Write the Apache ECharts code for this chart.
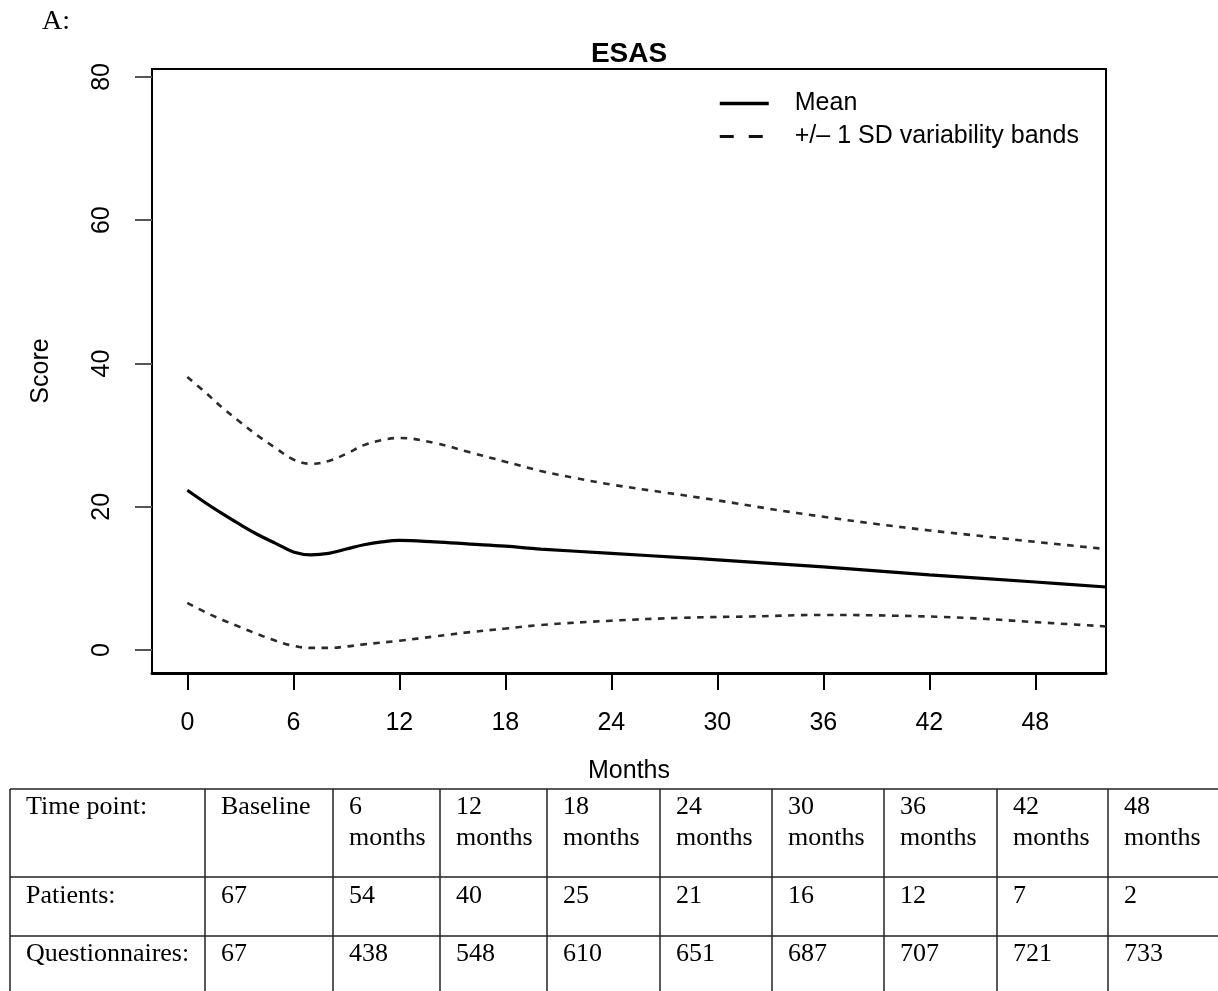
<!DOCTYPE html>
<html><head><meta charset="utf-8">
<script src="https://cdn.jsdelivr.net/npm/echarts@6/dist/echarts.min.js"></script>
<style>html,body{margin:0;padding:0;background:#fff}#c{width:1218px;height:991px}</style>
</head><body><div id="c"></div>
<script>
// ---- data ----
const meanMonths  = [0,1,2,3,4,5,6,7,8,9,10,11,12,14,16,18,20,24,28,30,36,42,48,52];
const meanScore   = [22.3,20.6,19.0,17.5,16.1,14.9,13.7,13.3,13.5,14.1,14.7,15.1,15.3,15.1,14.8,14.5,14.1,13.5,12.9,12.6,11.6,10.5,9.5,8.8];
const upperMonths = [0,1,2,3,4,5,6,7,8,9,10,11,12,14,16,18,20,22,24,27,30,33,36,39,42,45,48,52];
const upperScore  = [38.1,36.0,33.8,31.8,29.9,28.2,26.6,26.0,26.4,27.4,28.6,29.3,29.6,28.9,27.6,26.3,25.0,24.0,23.1,22.0,20.9,19.7,18.6,17.6,16.7,15.9,15.1,14.1];
const lowerMonths = [0,1,2,3,4,5,6,7,8,9,10,12,14,16,18,20,24,28,32,36,40,44,48,52];
const lowerScore  = [6.6,5.3,4.2,3.2,2.2,1.3,0.6,0.3,0.3,0.5,0.8,1.3,1.9,2.5,3.0,3.5,4.1,4.5,4.7,4.9,4.8,4.5,3.9,3.3];
const xTicks = [0,6,12,18,24,30,36,42,48];
const yTicks = [0,20,40,60,80];
const bandName = '+/\u2013 1 SD variability bands';
const tableHeader = ['Time point:','Baseline','6\nmonths','12\nmonths','18\nmonths','24\nmonths','30\nmonths','36\nmonths','42\nmonths','48\nmonths'];
const tablePatients = ['Patients:','67','54','40','25','21','16','12','7','2'];
const tableQuest = ['Questionnaires:','67','438','548','610','651','687','707','721','733'];

const zip = (xs, ys) => xs.map((x, i) => [x, ys[i]]);

// ---- table layout ----
const colX = [10,205,333,440,547,660,772,884,997,1108,1220];
const rowY = [789,877,936,995];
const rowTextTop = [791.5,880.5,938.5];
const g = [];
g.push({type:'text', left:42, top:8, style:{text:'A:', font:'28px "Liberation Serif"', fill:'#000'}});
rowY.forEach(y => g.push({type:'line', shape:{x1:colX[0], y1:y, x2:colX[colX.length-1], y2:y}, style:{stroke:'#222', lineWidth:1.5}}));
colX.forEach(x => g.push({type:'line', shape:{x1:x, y1:rowY[0], x2:x, y2:rowY[rowY.length-1]}, style:{stroke:'#222', lineWidth:1.5}}));
[tableHeader, tablePatients, tableQuest].forEach((row, r) => {
  row.forEach((t, c) => {
    g.push({type:'text', x:colX[c]+16, y:rowTextTop[r], style:{text:t, font:'26px "Liberation Serif"', lineHeight:31, fill:'#000', textVerticalAlign:'top', verticalAlign:'top'}});
  });
});

const chart = echarts.init(document.getElementById('c'), null, {renderer:'canvas'});
chart.setOption({
  animation:false,
  backgroundColor:'#fff',
  title:{text:'ESAS', left:629, top:40, padding:0, textAlign:'center',
    textStyle:{fontFamily:'Liberation Sans', fontWeight:'bold', fontSize:28, color:'#000'}},
  legend:{
    orient:'vertical', left:718, top:91, padding:0, itemWidth:49, itemHeight:14, itemGap:8,
    itemStyle:{opacity:0, borderWidth:0},
    textStyle:{fontFamily:'Liberation Sans', fontSize:25, color:'#000', padding:[0,0,0,21]},
    data:[{name:'Mean', lineStyle:{width:3.5, color:'#000'}}, {name:bandName, lineStyle:{type:[14,15], width:3, color:'#111'}}]
  },
  grid:{left:152, top:69, right:112, bottom:318, show:true, borderColor:'#000', borderWidth:2, containLabel:false},
  xAxis:{
    type:'value', min:-2, max:52,
    name:'Months', nameLocation:'middle', nameGap:86,
    nameTextStyle:{fontFamily:'Liberation Sans', fontSize:25, color:'#000'},
    axisLine:{show:true, onZero:false, lineStyle:{color:'#000', width:3}},
    axisTick:{show:true, length:17, customValues:xTicks, lineStyle:{color:'#000', width:2}},
    axisLabel:{customValues:xTicks, margin:38, fontFamily:'Liberation Sans', fontSize:25, color:'#000'},
    splitLine:{show:false}
  },
  yAxis:{
    type:'value', min:-3.2, max:81.1,
    name:'Score', nameLocation:'middle', nameGap:98, nameRotate:90,
    nameTextStyle:{fontFamily:'Liberation Sans', fontSize:25, color:'#000'},
    axisLine:{show:true, onZero:false, lineStyle:{color:'#000', width:2}},
    axisTick:{show:true, length:17, customValues:yTicks, lineStyle:{color:'#555', width:2}},
    axisLabel:{customValues:yTicks, rotate:90, margin:37, fontFamily:'Liberation Sans', fontSize:25, color:'#000'},
    splitLine:{show:false}
  },
  series:[
    {type:'line', name:'Mean', data:zip(meanMonths, meanScore), smooth:0.4, symbol:'none',
     lineStyle:{color:'#000', width:3.2}, itemStyle:{color:'#000'}, z:3},
    {type:'line', name:bandName, data:zip(upperMonths, upperScore), smooth:0.4, symbol:'none',
     lineStyle:{color:'#2a2a2a', width:2.6, type:[6.5,6.5]}, itemStyle:{color:'#2a2a2a'}},
    {type:'line', name:bandName, data:zip(lowerMonths, lowerScore), smooth:0.4, symbol:'none',
     lineStyle:{color:'#2a2a2a', width:2.6, type:[6.5,6.5]}, itemStyle:{color:'#2a2a2a'}}
  ],
  graphic:g
});
</script></body></html>
